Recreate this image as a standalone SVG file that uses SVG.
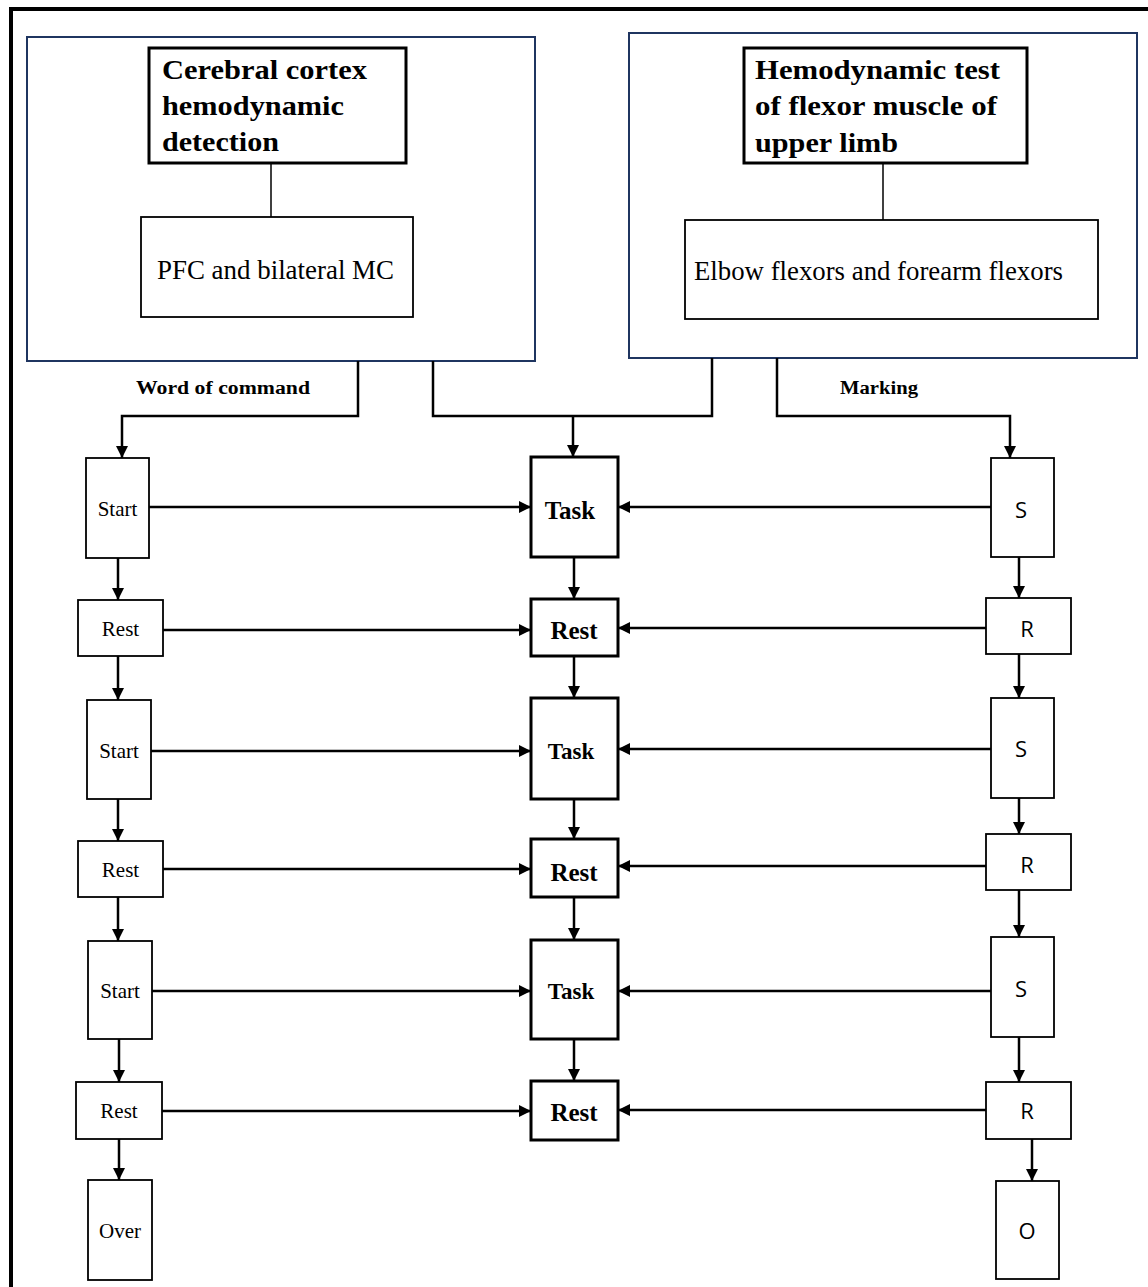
<svg xmlns="http://www.w3.org/2000/svg" width="1148" height="1287" viewBox="0 0 1148 1287">
<style>
.frame{fill:none;stroke:#000;stroke-width:4}
.blue{fill:#fff;stroke:#1f3560;stroke-width:2}
.title{fill:#fff;stroke:#000;stroke-width:3}
.inner{fill:#fff;stroke:#000;stroke-width:1.8}
.sm{fill:#fff;stroke:#000;stroke-width:1.8}
.ctr{fill:#fff;stroke:#000;stroke-width:3}
.tb{font-family:"Liberation Serif","Times New Roman",serif;font-weight:bold;font-size:28px;fill:#000}
.tr{font-family:"Liberation Serif","Times New Roman",serif;font-weight:normal;font-size:27px;fill:#000}
.lab{font-family:"Liberation Serif","Times New Roman",serif;font-weight:bold;font-size:18px;fill:#000}
.ls{font-family:"Liberation Serif","Times New Roman",serif;font-size:21px;fill:#000;text-anchor:middle}
.cs{font-family:"Liberation Serif","Times New Roman",serif;font-weight:bold;font-size:25px;fill:#000;text-anchor:middle}
.rs{font-family:"Open Sans","Liberation Sans",sans-serif;font-size:22px;fill:#000;text-anchor:middle}
.ln{fill:none;stroke:#000;stroke-width:2.5}
.thin{fill:none;stroke:#000;stroke-width:1.5}
.ar{fill:none;stroke:#000;stroke-width:2.5;marker-end:url(#ah)}
</style>
<defs>
<marker id="ah" markerUnits="userSpaceOnUse" markerWidth="13" markerHeight="13" refX="12" refY="6.5" orient="auto">
<path d="M0,0.5 L12,6.5 L0,12.5 z" fill="#000"/>
</marker>
</defs>
<rect width="1148" height="1287" fill="#fff"/>
<path class="frame" d="M11,1287 L11,9 L1148,9"/>

<g id="cortex-panel">
<rect class="blue" x="27" y="37" width="508" height="324"/>
</g>
<g id="cortex-title">
<rect class="title" x="149" y="48" width="257" height="115"/>
<text class="tb" x="162" y="79" textLength="205" lengthAdjust="spacingAndGlyphs">Cerebral cortex</text>
<text class="tb" x="162" y="115" textLength="182" lengthAdjust="spacingAndGlyphs">hemodynamic</text>
<text class="tb" x="162" y="151" textLength="117" lengthAdjust="spacingAndGlyphs">detection</text>
</g>
<g id="cortex-regions">
<rect class="inner" x="141" y="217" width="272" height="100"/>
<text class="tr" x="157" y="279" textLength="237" lengthAdjust="spacingAndGlyphs">PFC and bilateral MC</text>
</g>

<g id="muscle-panel">
<rect class="blue" x="629" y="33" width="508" height="325"/>
</g>
<g id="muscle-title">
<rect class="title" x="744" y="48" width="283" height="115"/>
<text class="tb" x="755" y="79" textLength="245" lengthAdjust="spacingAndGlyphs">Hemodynamic test</text>
<text class="tb" x="755" y="115" textLength="242" lengthAdjust="spacingAndGlyphs">of flexor muscle of</text>
<text class="tb" x="755" y="152" textLength="143" lengthAdjust="spacingAndGlyphs">upper limb</text>
</g>
<g id="muscle-regions">
<rect class="inner" x="685" y="220" width="413" height="99"/>
<text class="tr" x="694" y="280" textLength="369" lengthAdjust="spacingAndGlyphs">Elbow flexors and forearm flexors</text>
</g>

<g id="labels">
<text class="lab" x="136" y="394" textLength="174" lengthAdjust="spacingAndGlyphs">Word  of command</text>
<text class="lab" x="840" y="394" textLength="78" lengthAdjust="spacingAndGlyphs">Marking</text>
</g>

<g id="left-column">
<g id="start1"><rect class="sm" x="86" y="458" width="63" height="100"/><text class="ls" x="117.5" y="516">Start</text></g>
<g id="rest1"><rect class="sm" x="78" y="600" width="85" height="56"/><text class="ls" x="120.5" y="636">Rest</text></g>
<g id="start2"><rect class="sm" x="87" y="700" width="64" height="99"/><text class="ls" x="119" y="758">Start</text></g>
<g id="rest2"><rect class="sm" x="78" y="841" width="85" height="56"/><text class="ls" x="120.5" y="877">Rest</text></g>
<g id="start3"><rect class="sm" x="88" y="941" width="64" height="98"/><text class="ls" x="120" y="998">Start</text></g>
<g id="rest3"><rect class="sm" x="76" y="1082" width="86" height="57"/><text class="ls" x="119" y="1118">Rest</text></g>
<g id="over"><rect class="sm" x="88" y="1180" width="64" height="100"/><text class="ls" x="120" y="1238">Over</text></g>
</g>

<g id="center-column">
<g id="task1"><rect class="ctr" x="531" y="457" width="87" height="100"/><text class="cs" x="570" y="519">Task</text></g>
<g id="crest1"><rect class="ctr" x="531" y="599" width="87" height="57"/><text class="cs" x="574" y="639">Rest</text></g>
<g id="task2"><rect class="ctr" x="531" y="698" width="87" height="101"/><text class="cs" x="571" y="759" style="font-size:23px">Task</text></g>
<g id="crest2"><rect class="ctr" x="531" y="839" width="87" height="58"/><text class="cs" x="574" y="881">Rest</text></g>
<g id="task3"><rect class="ctr" x="531" y="940" width="87" height="99"/><text class="cs" x="571" y="999" style="font-size:23px">Task</text></g>
<g id="crest3"><rect class="ctr" x="531" y="1081" width="87" height="59"/><text class="cs" x="574" y="1121">Rest</text></g>
</g>

<g id="right-column">
<g id="s1"><rect class="sm" x="991" y="458" width="63" height="99"/><text class="rs" x="1021" y="518">S</text></g>
<g id="r1"><rect class="sm" x="986" y="598" width="85" height="56"/><text class="rs" x="1027" y="637">R</text></g>
<g id="s2"><rect class="sm" x="991" y="698" width="63" height="100"/><text class="rs" x="1021" y="757">S</text></g>
<g id="r2"><rect class="sm" x="986" y="834" width="85" height="56"/><text class="rs" x="1027" y="873">R</text></g>
<g id="s3"><rect class="sm" x="991" y="937" width="63" height="100"/><text class="rs" x="1021" y="997">S</text></g>
<g id="r3"><rect class="sm" x="986" y="1082" width="85" height="57"/><text class="rs" x="1027" y="1119">R</text></g>
<g id="o"><rect class="sm" x="996" y="1181" width="63" height="98"/><text class="rs" x="1027" y="1239">O</text></g>
</g>

<g id="connectors">
<line class="thin" x1="271" y1="163" x2="271" y2="217"/>
<line class="thin" x1="883" y1="163" x2="883" y2="220"/>
<polyline class="ar" points="358,361 358,416 122,416 122,458"/>
<polyline class="ln" points="433,361 433,416 712,416 712,358"/>
<line class="ar" x1="573" y1="416" x2="573" y2="457"/>
<polyline class="ar" points="777,358 777,416 1010,416 1010,458"/>

<line class="ar" x1="118" y1="558" x2="118" y2="600"/>
<line class="ar" x1="118" y1="656" x2="118" y2="700"/>
<line class="ar" x1="118" y1="799" x2="118" y2="841"/>
<line class="ar" x1="118" y1="897" x2="118" y2="941"/>
<line class="ar" x1="119" y1="1039" x2="119" y2="1082"/>
<line class="ar" x1="119" y1="1139" x2="119" y2="1180"/>

<line class="ar" x1="574" y1="557" x2="574" y2="599"/>
<line class="ar" x1="574" y1="656" x2="574" y2="698"/>
<line class="ar" x1="574" y1="799" x2="574" y2="839"/>
<line class="ar" x1="574" y1="897" x2="574" y2="940"/>
<line class="ar" x1="574" y1="1039" x2="574" y2="1081"/>

<line class="ar" x1="1019" y1="557" x2="1019" y2="598"/>
<line class="ar" x1="1019" y1="654" x2="1019" y2="698"/>
<line class="ar" x1="1019" y1="798" x2="1019" y2="834"/>
<line class="ar" x1="1019" y1="890" x2="1019" y2="937"/>
<line class="ar" x1="1019" y1="1037" x2="1019" y2="1082"/>
<line class="ar" x1="1032" y1="1139" x2="1032" y2="1181"/>

<line class="ar" x1="149" y1="507" x2="531" y2="507"/>
<line class="ar" x1="991" y1="507" x2="618" y2="507"/>
<line class="ar" x1="163" y1="630" x2="531" y2="630"/>
<line class="ar" x1="986" y1="628" x2="618" y2="628"/>
<line class="ar" x1="151" y1="751" x2="531" y2="751"/>
<line class="ar" x1="991" y1="749" x2="618" y2="749"/>
<line class="ar" x1="163" y1="869" x2="531" y2="869"/>
<line class="ar" x1="986" y1="866" x2="618" y2="866"/>
<line class="ar" x1="152" y1="991" x2="531" y2="991"/>
<line class="ar" x1="991" y1="991" x2="618" y2="991"/>
<line class="ar" x1="162" y1="1111" x2="531" y2="1111"/>
<line class="ar" x1="986" y1="1110" x2="618" y2="1110"/>
</g>
</svg>
